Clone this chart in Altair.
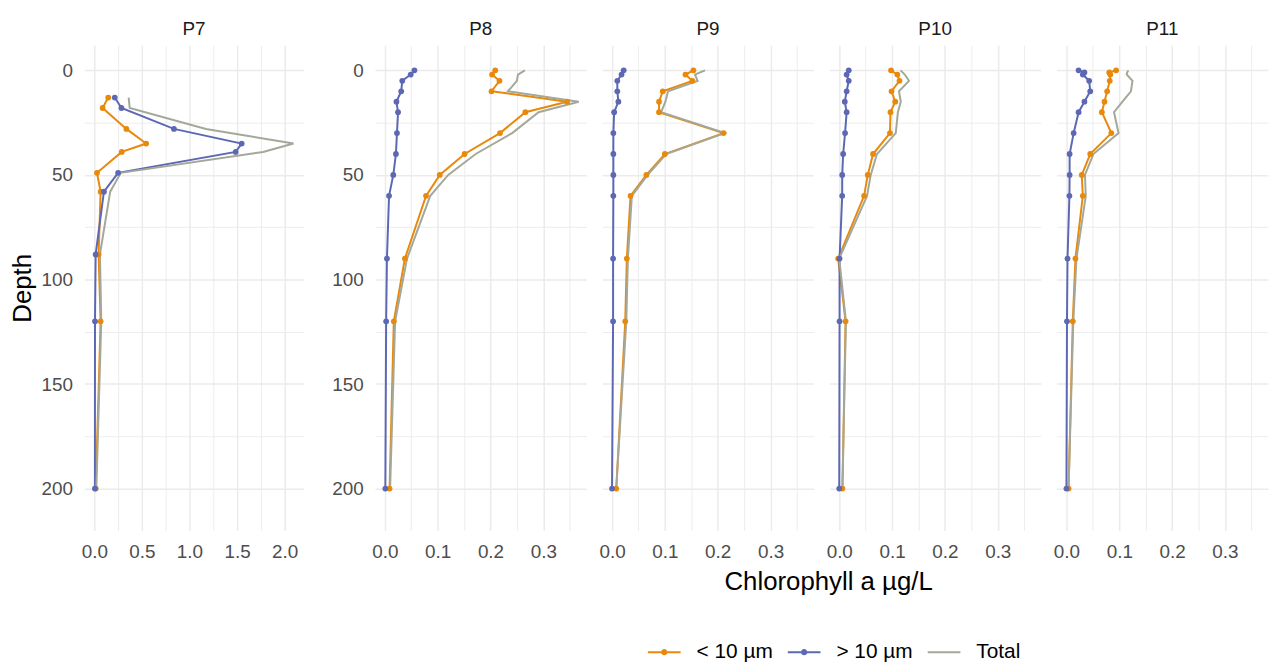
import altair as alt
import pandas as pd

FONT = "Liberation Sans"
SERIES = ["< 10 µm", "> 10 µm", "Total"]
COLORS = ["#E8890C", "#5C68B4", "#A4A899"]

# Sampling depths (m)
depth_p7 = [13, 18, 28, 35, 39, 49, 58, 88, 120, 200]
depth_std = [0, 2, 5, 10, 15, 20, 30, 40, 50, 60, 90, 120, 200]
depth_p11 = [0, 1, 2, 5, 10, 15, 20, 30, 40, 50, 60, 90, 120, 200]

# Chlorophyll a (µg/L): < 10 µm fraction, > 10 µm fraction, total
small_p7 = [0.146, 0.087, 0.337, 0.545, 0.288, 0.028, 0.066, 0.045, 0.066, 0.015]
large_p7 = [0.215, 0.285, 0.837, 1.549, 1.486, 0.250, 0.101, 0.014, 0.007, 0.006]
total_p7 = [0.361, 0.372, 1.174, 2.094, 1.774, 0.278, 0.167, 0.059, 0.073, 0.021]

small_p8 = [0.209, 0.203, 0.217, 0.202, 0.345, 0.266, 0.218, 0.151, 0.104, 0.078, 0.038, 0.017, 0.009]
large_p8 = [0.056, 0.049, 0.033, 0.031, 0.022, 0.025, 0.023, 0.021, 0.016, 0.008, 0.004, 0.0025, 0.001]
total_p8 = [0.265, 0.252, 0.250, 0.233, 0.367, 0.291, 0.241, 0.172, 0.120, 0.086, 0.042, 0.0195, 0.010]

small_p9 = [0.154, 0.139, 0.152, 0.096, 0.089, 0.089, 0.211, 0.100, 0.065, 0.035, 0.028, 0.025, 0.008]
large_p9 = [0.022, 0.018, 0.010, 0.010, 0.012, 0.004, 0.0025, 0.0025, 0.0025, 0.0025, 0.002, 0.002, 0.0]
total_p9 = [0.176, 0.157, 0.162, 0.106, 0.101, 0.093, 0.2135, 0.1025, 0.0675, 0.0375, 0.030, 0.027, 0.008]

small_p10 = [0.098, 0.110, 0.114, 0.099, 0.106, 0.097, 0.096, 0.064, 0.054, 0.047, -0.002, 0.012, 0.006]
large_p10 = [0.018, 0.014, 0.018, 0.014, 0.0105, 0.014, 0.011, 0.0074, 0.0056, 0.0056, 0.0006, 0.0006, 0.0]
total_p10 = [0.116, 0.124, 0.132, 0.113, 0.1165, 0.111, 0.107, 0.0714, 0.0596, 0.0526, 0.0, 0.0126, 0.006]

small_p11 = [0.094, 0.081, 0.083, 0.082, 0.077, 0.072, 0.067, 0.085, 0.045, 0.029, 0.031, 0.017, 0.012, 0.004]
large_p11 = [0.023, 0.034, 0.031, 0.043, 0.045, 0.034, 0.023, 0.0136, 0.006, 0.006, 0.0056, 0.002, 0.001, 0.0]
total_p11 = [0.117, 0.115, 0.114, 0.125, 0.122, 0.106, 0.090, 0.0986, 0.051, 0.035, 0.0366, 0.019, 0.013, 0.004]

# Axis grids
y_grid = [0, 25, 50, 75, 100, 125, 150, 175, 200]
x_grid_p7 = [0, 0.25, 0.5, 0.75, 1.0, 1.25, 1.5, 1.75, 2.0]
x_grid_small = [0, 0.05, 0.1, 0.15, 0.2, 0.25, 0.3, 0.35]

PLOT_H = 489
GRID_MAJOR = 1.5
GRID_MINOR = 0.9

# Legend keys: line with a dot, plain line for the total
KEY_DOT = "M-1,-0.062H1V0.062H-1Z M0.19,0A0.19,0.19,0,1,1,-0.19,0A0.19,0.19,0,1,1,0.19,0Z"
KEY_LINE = "M-1,-0.062H1V0.062H-1Z"

color_scale = alt.Scale(domain=SERIES, range=COLORS)
shape_scale = alt.Scale(domain=SERIES, range=[KEY_DOT, KEY_DOT, KEY_LINE])

# legend is positioned relative to the first panel's plot area
legend = alt.Legend(
    title=None,
    orient="none",
    legendX=568,
    legendY=595,
    direction="horizontal",
    symbolSize=1089,
    symbolStrokeWidth=0,
    symbolOpacity=1,
    labelFontSize=21,
    labelColor="#000000",
    labelFont=FONT,
    labelOffset=16,
    columnPadding=15,
)


def profile(station, depths, small, large, total):
    rows = []
    for name, vals in zip(SERIES, (small, large, total)):
        for d, v in zip(depths, vals):
            rows.append({"station": station, "depth": d, "series": name, "chl": v})
    return pd.DataFrame(rows)


def panel(df, name, x_domain, x_grid, major_step, width, show_y, y_title=None, with_legend=False):
    major_x = f"abs(datum.value / {major_step} - round(datum.value / {major_step})) < 0.000001"
    major_y = "datum.value % 50 == 0"
    x_axis = alt.Axis(
        values=x_grid,
        labelExpr=f"{major_x} ? format(datum.value, '.1f') : ''",
        gridWidth={"condition": {"test": major_x, "value": GRID_MAJOR}, "value": GRID_MINOR},
        title=None,
        labelOverlap=False,
        labelFlush=False,
    )
    y_axis = alt.Axis(
        values=y_grid,
        labelExpr=f"{major_y} ? datum.label : ''",
        labels=show_y,
        gridWidth={"condition": {"test": major_y, "value": GRID_MAJOR}, "value": GRID_MINOR},
        title=y_title,
        labelOverlap=False,
    )
    x = alt.X("chl:Q", scale=alt.Scale(domain=x_domain, nice=False, zero=False), axis=x_axis)
    y = alt.Y("depth:Q", scale=alt.Scale(domain=[-12, 220], reverse=True, nice=False, zero=False), axis=y_axis)

    base = alt.Chart(df)
    lines = base.mark_line(strokeWidth=2).encode(
        x=x, y=y,
        color=alt.Color("series:N", scale=color_scale, legend=None),
        order="depth:Q",
    )
    points = base.transform_filter(alt.datum.series != "Total").mark_circle(size=34, opacity=1).encode(
        x=x, y=y,
        color=alt.Color("series:N", scale=color_scale, legend=None),
    )
    layers = [lines, points]
    if with_legend:
        # invisible layer that only carries the legend (line + dot keys)
        keys = base.mark_point(filled=True, opacity=0).encode(
            x=x, y=y,
            color=alt.Color("series:N", scale=color_scale, legend=legend),
            shape=alt.Shape("series:N", scale=shape_scale, legend=legend),
        )
        layers = [keys] + layers
    return alt.layer(*layers).properties(
        width=width,
        height=PLOT_H,
        title=alt.TitleParams(name, fontSize=19, fontWeight="normal", color="#1A1A1A",
                              anchor="middle", offset=6, font=FONT),
    )


p7 = panel(profile("P7", depth_p7, small_p7, large_p7, total_p7), "P7",
           [-0.105, 2.2], x_grid_p7, 0.5, 221, True, y_title="Depth", with_legend=True)
p8 = panel(profile("P8", depth_std, small_p8, large_p8, total_p8), "P8",
           [-0.0185, 0.3815], x_grid_small, 0.1, 213, True)
p9 = panel(profile("P9", depth_std, small_p9, large_p9, total_p9), "P9",
           [-0.0185, 0.3815], x_grid_small, 0.1, 213, False)
p10 = panel(profile("P10", depth_std, small_p10, large_p10, total_p10), "P10",
            [-0.0185, 0.3815], x_grid_small, 0.1, 213, False)
p11 = panel(profile("P11", depth_p11, small_p11, large_p11, total_p11), "P11",
            [-0.0185, 0.3815], x_grid_small, 0.1, 213, False)

right_block = alt.hconcat(
    p8, p9, p10, p11,
    spacing=12,
    title=alt.TitleParams("Chlorophyll a µg/L", orient="bottom", anchor="middle", fontSize=26,
                          fontWeight="normal", color="#000000", offset=8, dx=29, font=FONT),
)

chart = (
    alt.hconcat(p7, right_block, spacing=28)
    .properties(padding={"left": 9, "top": 18, "right": 2, "bottom": 0})
    .configure(font=FONT)
    .configure_view(stroke=None)
    .configure_axis(
        domain=False,
        ticks=False,
        gridColor="#EBEBEB",
        labelColor="#4D4D4D",
        labelFontSize=19,
        labelFont=FONT,
        titleFont=FONT,
        titleFontSize=26,
        titleFontWeight="normal",
        titleColor="#000000",
        titlePadding=6,
    )
    .configure_axisX(labelPadding=12)
    .configure_axisY(labelPadding=12)
)

chart.save("out.html", embed_options={"renderer": "svg", "actions": False})
